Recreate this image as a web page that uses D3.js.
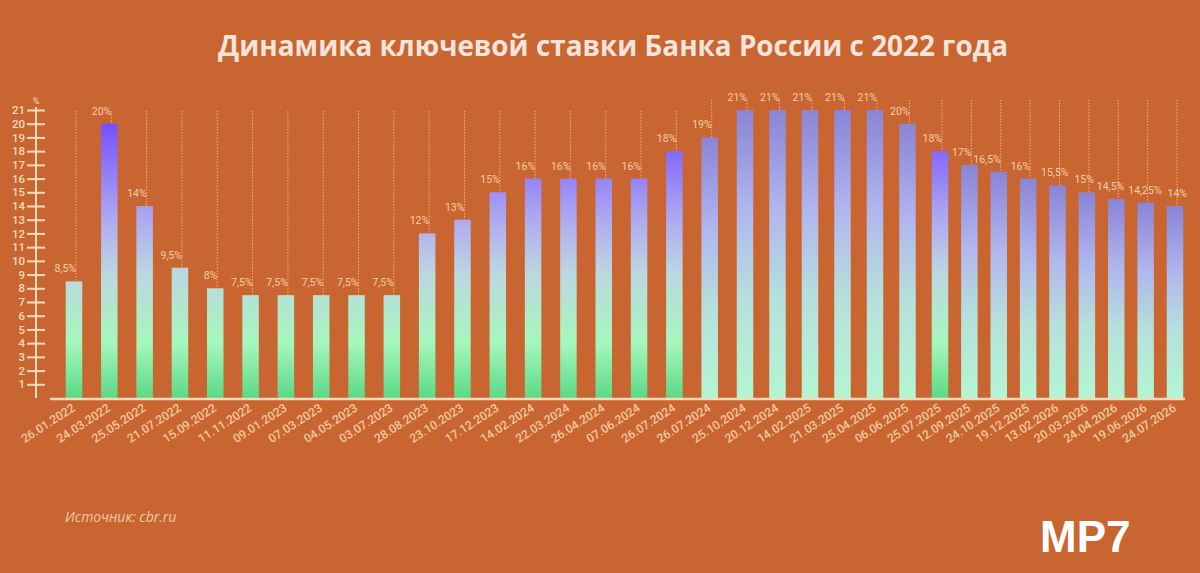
<!DOCTYPE html>
<html>
<head>
<meta charset="utf-8">
<script src="https://cdn.jsdelivr.net/npm/d3@7"></script>
<style>
  body { margin: 0; background: #c96530; }
  svg { display: block; }
</style>
</head>
<body>
<script>
// ключевая ставка, даты решений
var dates = ["26.01.2022","24.03.2022","25.05.2022","21.07.2022","15.09.2022","11.11.2022",
  "09.01.2023","07.03.2023","04.05.2023","03.07.2023","28.08.2023","23.10.2023","17.12.2023",
  "14.02.2024","22.03.2024","26.04.2024","07.06.2024","26.07.2024","26.07.2024","25.10.2024",
  "20.12.2024","14.02.2025","21.03.2025","25.04.2025","06.06.2025","25.07.2025","12.09.2025",
  "24.10.2025","19.12.2025","13.02.2026","20.03.2026","24.04.2026","19.06.2026","24.07.2026"];
var rates = [8.5, 20, 14, 9.5, 8, 7.5, 7.5, 7.5, 7.5, 7.5, 12, 13, 15, 16, 16, 16, 16, 18,
  19, 21, 21, 21, 21, 21, 20, 18, 17, 16.5, 16, 15.5, 15, 14.5, 14.25, 14];
var rateLabels = ["8,5%","20%","14%","9,5%","8%","7,5%","7,5%","7,5%","7,5%","7,5%","12%","13%",
  "15%","16%","16%","16%","16%","18%","19%","21%","21%","21%","21%","21%","20%","18%","17%",
  "16,5%","16%","15,5%","15%","14,5%","14,25%","14%"];
var yTicks = d3.range(1, 22);

var W = 1200, H = 573;
var svg = d3.select("body").append("svg")
  .attr("width", W)
  .attr("height", H);

svg.append("rect").attr("width", W).attr("height", H).attr("fill", "#c96530");

var n = dates.length;
// spacing in the original is not even: wider on the left, tighter on the right
var x = d3.scaleLinear()
  .domain([0, 19, 25, n - 1])
  .range([74, 745, 940, 1175]);
var barW = 16.5;

var y = d3.scaleLinear()
  .domain([0, 21])
  .range([398, 110]);

var defs = svg.append("defs");
// vivid gradient, tied to the chart's value axis
var gA = defs.append("linearGradient")
  .attr("id", "gradA")
  .attr("gradientUnits", "userSpaceOnUse")
  .attr("x1", 0).attr("x2", 0)
  .attr("y1", y(0)).attr("y2", y(20));
[[0, "#5bd985"], [0.2, "#a6f7bd"], [0.45, "#bcd8e0"], [0.65, "#aeaaf0"], [1, "#7450ff"]]
  .forEach(function(s) { gA.append("stop").attr("offset", s[0]).attr("stop-color", s[1]); });

// pale gradient, per bar
var gB = defs.append("linearGradient")
  .attr("id", "gradB")
  .attr("x1", 0).attr("x2", 0)
  .attr("y1", 1).attr("y2", 0);
[[0, "#b3f6d2"], [0.35, "#b6e0dc"], [0.65, "#b0b6ee"], [1, "#8a84d6"]]
  .forEach(function(s) { gB.append("stop").attr("offset", s[0]).attr("stop-color", s[1]); });

function vivid(i) { return i <= 17 || i === 25; }

// title
svg.append("text")
  .attr("x", 613).attr("y", 56)
  .attr("text-anchor", "middle")
  .attr("font-family", "Open Sans")
  .attr("font-weight", 700)
  .attr("font-size", 29)
  .attr("textLength", 790)
  .attr("lengthAdjust", "spacingAndGlyphs")
  .attr("fill", "#f4e4db")
  .text("Динамика ключевой ставки Банка России с 2022 года");

// dotted leaders
svg.selectAll(".lead")
  .data(rates)
  .enter()
  .append("line")
  .attr("class", "lead")
  .attr("x1", function(d, i) { return x(i) + 2; })
  .attr("x2", function(d, i) { return x(i) + 2; })
  .attr("y1", function(d, i) { return i >= 18 ? 100 : 111; })
  .attr("y2", function(d) { return y(d); })
  .attr("stroke", "#f3b07a")
  .attr("stroke-width", 1)
  .attr("stroke-dasharray", "1.5,1.5");

// bars
svg.selectAll(".bar")
  .data(rates)
  .enter()
  .append("rect")
  .attr("class", "bar")
  .attr("x", function(d, i) { return x(i) - barW / 2; })
  .attr("width", barW)
  .attr("y", function(d) { return y(d); })
  .attr("height", function(d) { return y(0) - y(d); })
  .attr("fill", function(d, i) { return vivid(i) ? "url(#gradA)" : "url(#gradB)"; });

// value labels; the crowded last few are nudged right like in the original
var nudge = {29: 11, 30: 7, 31: 8, 32: 16, 33: 12};
svg.selectAll(".val")
  .data(rates)
  .enter()
  .append("text")
  .attr("class", "val")
  .attr("x", function(d, i) { return x(i) + (nudge[i] || 2); })
  .attr("y", function(d) { return y(d) - 9; })
  .attr("text-anchor", "end")
  .attr("font-family", "Roboto")
  .attr("font-size", 10.5)
  .attr("fill", "#f6cfac")
  .text(function(d, i) { return rateLabels[i]; });

// baseline
svg.append("line")
  .attr("x1", 50).attr("x2", 1185)
  .attr("y1", y(0) + 1).attr("y2", y(0) + 1)
  .attr("stroke", "#f7d9bb")
  .attr("stroke-width", 2.5);

// y axis
var yAxis = d3.axisLeft(y)
  .tickValues(yTicks)
  .tickSize(9)
  .tickPadding(2)
  .tickFormat(d3.format("d"));

var ga = svg.append("g")
  .attr("transform", "translate(36,0)")
  .call(yAxis);
ga.select(".domain").remove();
ga.selectAll(".tick line")
  .attr("x1", 9)
  .attr("stroke", "#f7dcc0")
  .attr("stroke-width", 2);
ga.selectAll(".tick text")
  .attr("font-family", "Roboto")
  .attr("font-weight", 500)
  .attr("font-size", 11.5)
  .attr("fill", "#f7dcc0");
ga.append("line")
  .attr("y1", 107).attr("y2", 398)
  .attr("stroke", "#f7dcc0")
  .attr("stroke-width", 2);
ga.append("text")
  .attr("x", 0).attr("y", 104)
  .attr("text-anchor", "middle")
  .attr("font-family", "Roboto")
  .attr("font-size", 9)
  .attr("fill", "#f7dcc0")
  .text("%");

// date labels
svg.selectAll(".date")
  .data(dates)
  .enter()
  .append("text")
  .attr("class", "date")
  .attr("transform", function(d, i) {
    return "translate(" + (x(i) + 2) + "," + (y(0) + 12) + ") rotate(-33)";
  })
  .attr("text-anchor", "end")
  .attr("font-family", "Roboto")
  .attr("font-weight", 500)
  .attr("font-size", 12)
  .attr("fill", "#f6c9a2")
  .text(function(d) { return d; });

// source
svg.append("text")
  .attr("x", 65).attr("y", 522)
  .attr("font-family", "Open Sans")
  .attr("font-style", "italic")
  .attr("font-size", 14)
  .attr("fill", "#f0c9a9")
  .text("Источник: cbr.ru");

// logo
svg.append("text")
  .attr("x", 1040).attr("y", 552)
  .attr("font-family", "Liberation Sans")
  .attr("font-weight", 700)
  .attr("font-size", 44)
  .attr("fill", "#ffffff")
  .text("MP7");
</script>
</body>
</html>
